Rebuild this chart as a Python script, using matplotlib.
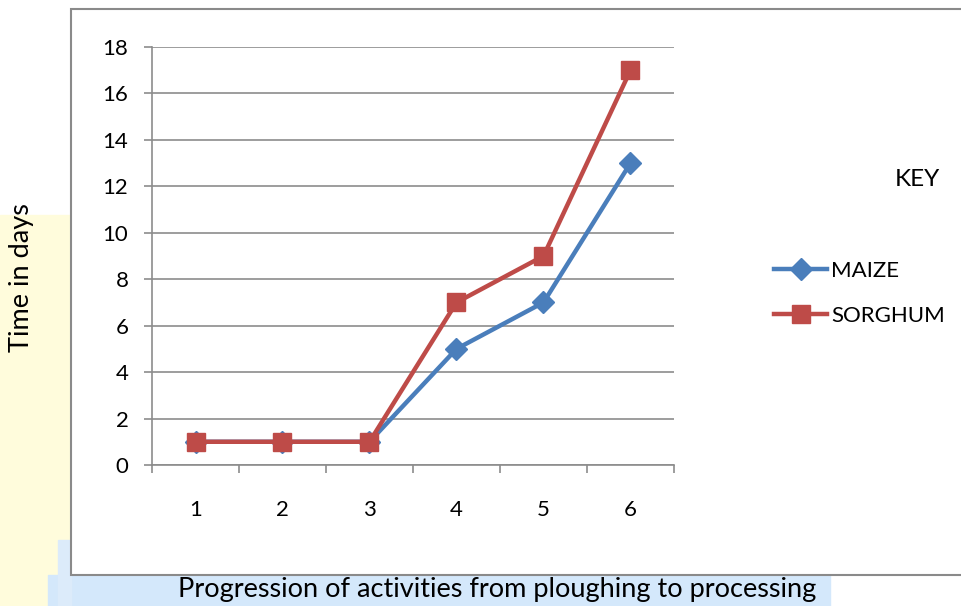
import matplotlib.pyplot as plt
from matplotlib.patches import Rectangle
from matplotlib.lines import Line2D

# data
activities = [1, 2, 3, 4, 5, 6]
maize = [1, 1, 1, 5, 7, 13]
sorghum = [1, 1, 1, 7, 9, 17]
y_ticks = [0, 2, 4, 6, 8, 10, 12, 14, 16, 18]

BLUE = "#4a7ebb"
RED = "#be4b48"
GRID = "#8c8c8c"
FONT = "Lato"

W, H = 961, 606
fig = plt.figure(figsize=(W / 100, H / 100), dpi=100)

# pale page background bits (yellow strip left, blue strip bottom)
fig.patches.append(Rectangle((0, 0), 71 / W, 1 - 215 / H, transform=fig.transFigure,
                             color="#fffcdc", zorder=0))
fig.patches.append(Rectangle((48 / W, 0), 782 / W, 31 / H, transform=fig.transFigure,
                             color="#d4e8fb", zorder=0))
fig.patches.append(Rectangle((58 / W, 0), 13 / W, 66 / H, transform=fig.transFigure,
                             color="#dcebfa", zorder=0))

# chart frame
fig.patches.append(Rectangle((71 / W, 1 - 575 / H), (W - 71 + 5) / W, (575 - 9) / H,
                             transform=fig.transFigure, facecolor="white",
                             edgecolor="#8a8a8a", linewidth=1.5, zorder=1))

ax = fig.add_axes([152 / W, 1 - 465 / H, (674 - 152) / W, (465 - 47) / H])
ax.set_facecolor("none")
ax.set_zorder(2)

ax.plot(activities, maize, color=BLUE, lw=3.2, marker="D", ms=11.5,
        label="MAIZE", zorder=3)
ax.plot(activities, sorghum, color=RED, lw=3.2, marker="s", ms=13,
        label="SORGHUM", zorder=4)

ax.set_xlim(0.5, 6.5)
ax.set_ylim(0, 18)
ax.set_yticks(y_ticks)
ax.set_xticks(activities)
ax.set_xticks([x + 0.5 for x in [0] + activities], minor=True)
ax.grid(axis="y", color=GRID, lw=1.2)
ax.set_axisbelow(True)

for s in ["top", "right"]:
    ax.spines[s].set_visible(False)
for s in ["left", "bottom"]:
    ax.spines[s].set_color(GRID)
    ax.spines[s].set_linewidth(1.2)

ax.tick_params(axis="y", length=6, width=1.2, color=GRID, pad=11,
               labelsize=16, labelfontfamily=FONT)
ax.tick_params(axis="x", which="major", length=0, pad=25,
               labelsize=16, labelfontfamily=FONT)
ax.tick_params(axis="x", which="minor", length=6, width=1.2, color=GRID)

fig.text(22 / W, 1 - 278 / H, "Time in days", rotation=90, ha="center",
         va="center", fontsize=19.5, family=FONT)
fig.text(497 / W, 1 - 590 / H, "Progression of activities from ploughing to processing",
         ha="center", va="center", fontsize=19.5, family=FONT)
fig.text(917 / W, 1 - 179 / H, "KEY", ha="center", va="center",
         fontsize=17.5, family=FONT)

handles = [Line2D([], [], color=BLUE, lw=3.2, marker="D", ms=11.5),
           Line2D([], [], color=RED, lw=3.2, marker="s", ms=13)]
fig.legend(handles, ["MAIZE", "SORGHUM"], loc="upper left",
           bbox_to_anchor=(754 / W, 1 - 241 / H), frameon=False,
           handlelength=2.4, handletextpad=0.17, labelspacing=1.12,
           prop={"family": FONT, "size": 16})

fig.savefig("out.png", dpi=100)
